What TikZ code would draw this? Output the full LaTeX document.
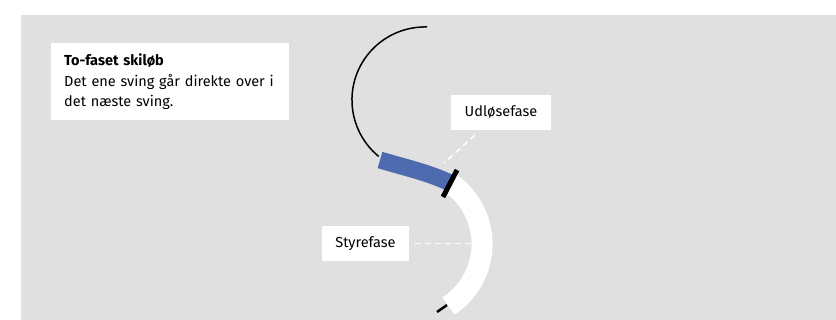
\documentclass[tikz,border=0pt]{standalone}
\usepackage{fontspec}
\setmainfont{Fira Sans}
\definecolor{panel}{RGB}{224,224,224}
\definecolor{phaseblue}{RGB}{78,107,175}
\begin{document}
\begin{tikzpicture}[x=1pt,y=-1pt,
  labelbox/.style={fill=white, inner sep=0pt, font=\fontsize{14.5}{17}\selectfont},
  guide/.style={white, line width=1.5pt, dash pattern=on 6pt off 4pt},
]
\useasboundingbox (0,0) rectangle (836,320);
% grey panel
\fill[panel] (21,15) rectangle (836,320);

% caption box
\node[fill=white, anchor=north west, minimum width=238pt, minimum height=77pt,
      text width=212pt, inner xsep=13pt, inner ysep=0pt, align=left,
      font=\fontsize{14.5}{20.5}\selectfont] (intro) at (51,43)
  {\textbf{To-faset skiløb}\\Det ene sving går direkte over i\\det næste sving.};

% previous turn: thin track
\draw[line width=1.5pt] (427,27) arc[start angle=-88.4, end angle=-230.7, radius=73];
% steering phase (white band)
\draw[white, line width=21pt] (450,183) arc[start angle=-55.5, end angle=57, radius=74];
% release phase (blue band)
\draw[phaseblue, line width=17pt] (380,160) .. controls (405,167.5) and (430,173) .. (450,183);
% transition marker
\draw[line width=5pt] (457,170) -- (443,197);
% start of the next track
\draw[line width=2.5pt] (437,312) -- (447,305);

% phase labels
\node[labelbox, minimum width=100pt, minimum height=35pt] (release) at (501,112.5) {Udløsefase};
\node[labelbox, minimum width=87pt, minimum height=35pt] (steer) at (365.5,243.5) {Styrefase};
\coordinate (releaseTip) at (444,163);
\coordinate (steerTip) at (471,243.5);
\draw[guide] (release.south) ++(-26,5) -- (releaseTip);
\draw[guide] (steer.east) ++(6,0) -- (steerTip);
\end{tikzpicture}
\end{document}
